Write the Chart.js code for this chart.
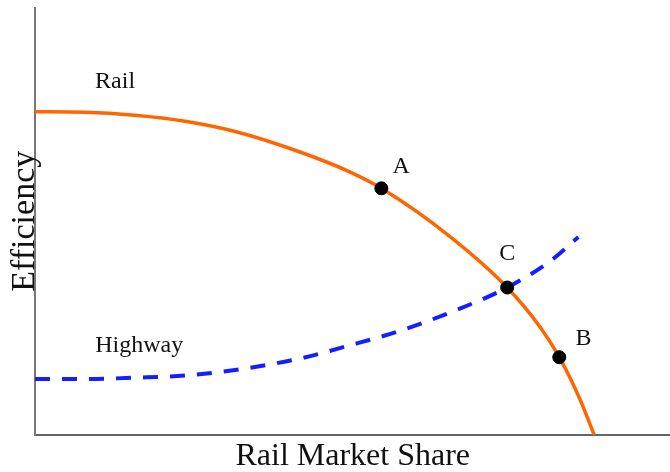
<!DOCTYPE html>
<html>
<head>
<meta charset="utf-8">
<script src="https://cdn.jsdelivr.net/npm/chart.js@4"></script>
<style>
  html, body { margin: 0; padding: 0; background: #fff; overflow: hidden; }
  /* 8px wider than the window: chart.js keeps room for the dots on the right */
  #wrap { width: 678px; height: 472px; }
</style>
</head>
<body>
<div id="wrap"><canvas id="chart"></canvas></div>
<script>
// market share (x) vs efficiency (y), both on a 0-100 scale
const railX = [0, 7.9, 15.7, 23.6, 31.5, 41.7, 49.6, 54.5, 65.4, 74.3, 79.5, 82.5, 85.8, 88];
const railY = [75.6, 75.5, 74.8, 73.4, 71, 66.2, 61.5, 57.7, 46.3, 34.5, 25.2, 18.2, 8.2, 0];

const highwayX = [0, 7.9, 15.7, 23.6, 31.5, 41.7, 49.6, 57.5, 65.4, 74.3, 81.1, 85.5];
const highwayY = [13.1, 13.1, 13.4, 13.9, 15.2, 17.9, 21, 24.4, 28.7, 34.5, 40.7, 46.3];

// the three marked points
const pointNames = ["A", "C", "B"];
const pointX = [54.5, 74.3, 82.5];
const pointY = [57.7, 34.5, 18.2];

// text labels placed in data units
const labelText = ["Rail", "Highway", "A", "C", "B"];
const labelX = [12.6, 16.4, 57.6, 74.3, 86.3];
const labelY = [82.7, 20.8, 62.8, 42.5, 22.6];

const xTitle = "Rail Market Share";
const yTitle = "Efficiency";

const toXY = (xs, ys) => xs.map((x, i) => ({ x: x, y: ys[i] }));

const textPlugin = {
  id: "textos",
  afterDraw(chart) {
    const ctx = chart.ctx;
    const xs = chart.scales.x;
    const ys = chart.scales.y;
    const area = chart.chartArea;
    ctx.save();
    ctx.fillStyle = "#111";
    ctx.font = "24px 'Liberation Serif', serif";
    ctx.textAlign = "center";
    ctx.textBaseline = "middle";
    labelText.forEach((t, i) => {
      ctx.fillText(t, xs.getPixelForValue(labelX[i]), ys.getPixelForValue(labelY[i]));
    });

    ctx.font = "32px 'Liberation Serif', serif";
    ctx.textBaseline = "alphabetic";
    ctx.fillText(xTitle, (area.left + area.right) / 2, area.bottom + 30);

    ctx.font = "34px 'Liberation Serif', serif";
    ctx.translate(area.left - 1, (area.top + area.bottom) / 2);
    ctx.rotate(-Math.PI / 2);
    ctx.fillText(yTitle, 0, 0);
    ctx.restore();
  }
};

const ctx = document.getElementById("chart");
new Chart(ctx, {
  type: "scatter",
  data: {
    datasets: [
      {
        label: "Rail",
        data: toXY(railX, railY),
        showLine: true,
        borderColor: "rgb(255,102,0)",
        borderWidth: 3.5,
        pointRadius: 0,
        cubicInterpolationMode: "monotone",
        order: 2
      },
      {
        label: "Highway",
        data: toXY(highwayX, highwayY),
        showLine: true,
        borderColor: "rgb(20,30,255)",
        borderWidth: 4,
        borderDash: [15, 12],
        pointRadius: 0,
        cubicInterpolationMode: "monotone",
        order: 1
      },
      {
        label: "Puntos",
        data: toXY(pointX, pointY),
        showLine: false,
        pointRadius: 6.5,
        pointBackgroundColor: "#000",
        pointBorderColor: "#000",
        order: 0
      }
    ]
  },
  options: {
    responsive: true,
    maintainAspectRatio: false,
    animation: false,
    layout: { padding: { left: 35, top: 7, right: 0, bottom: 37 } },
    plugins: {
      legend: { display: false },
      tooltip: { enabled: false }
    },
    scales: {
      x: {
        type: "linear",
        min: 0,
        max: 100,
        grid: { display: false, drawTicks: false },
        ticks: { display: false },
        border: { display: true, color: "#666", width: 2 }
      },
      y: {
        type: "linear",
        min: 0,
        max: 100,
        grid: { display: false, drawTicks: false },
        ticks: { display: false },
        border: { display: true, color: "#777", width: 2 }
      }
    }
  },
  plugins: [textPlugin]
});
</script>
</body>
</html>
